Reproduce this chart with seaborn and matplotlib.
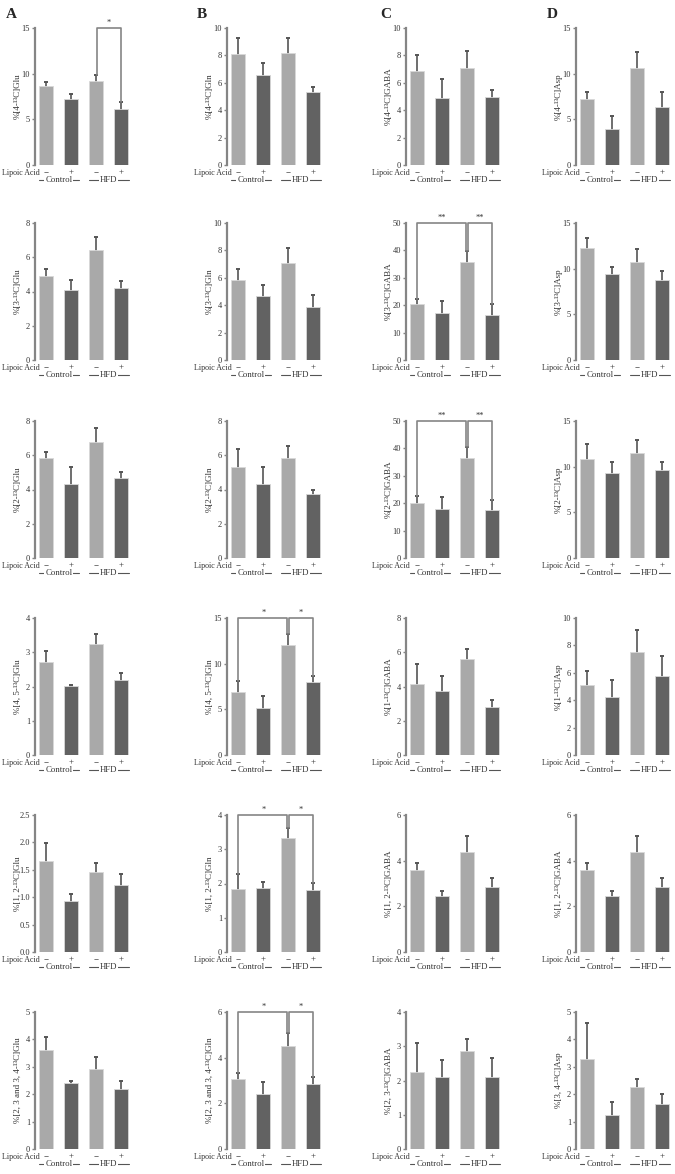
import numpy as np
import pandas as pd
import seaborn as sns
import matplotlib.pyplot as plt

# group order of the four bars in every panel
groups = ['Control −', 'Control +', 'HFD −', 'HFD +']
lipoic = ['−', '+', '−', '+']

# column A: glutamate
labels_A = ['%[4-¹³C]Glu', '%[3-¹³C]Glu', '%[2-¹³C]Glu',
            '%[4, 5-¹³C]Glu', '%[1, 2-¹³C]Glu', '%[2, 3 and 3, 4-¹³C]Glu']
means_A = [[8.6, 7.2, 9.2, 6.1], [4.9, 4.1, 6.4, 4.2], [5.85, 4.3, 6.75, 4.7],
           [2.72, 2.02, 3.25, 2.18], [1.66, 0.93, 1.46, 1.23], [3.6, 2.4, 2.92, 2.2]]
errs_A = [[0.5, 0.6, 0.6, 0.8], [0.4, 0.6, 0.8, 0.4], [0.35, 1.0, 0.85, 0.3],
          [0.33, 0.02, 0.27, 0.22], [0.32, 0.13, 0.16, 0.2], [0.5, 0.08, 0.45, 0.3]]
ymax_A = [15, 8, 8, 4, 2.5, 5]
step_A = [5, 2, 2, 1, 0.5, 1]
sig_A = [[(2, 3, '*')], [], [], [], [], []]

# column B: glutamine
labels_B = ['%[4-¹³C]Gln', '%[3-¹³C]Gln', '%[2-¹³C]Gln',
            '%[4, 5-¹³C]Gln', '%[1, 2-¹³C]Gln', '%[2, 3 and 3, 4-¹³C]Gln']
means_B = [[8.1, 6.6, 8.2, 5.35], [5.85, 4.65, 7.1, 3.9], [5.3, 4.3, 5.85, 3.75],
           [6.85, 5.15, 12.0, 8.0], [1.85, 1.88, 3.33, 1.82], [3.05, 2.42, 4.5, 2.85]]
errs_B = [[1.2, 0.85, 1.1, 0.35], [0.8, 0.85, 1.1, 0.85], [1.05, 1.0, 0.7, 0.25],
          [1.2, 1.3, 1.3, 0.7], [0.42, 0.15, 0.3, 0.2], [0.3, 0.5, 0.6, 0.3]]
ymax_B = [10, 10, 8, 15, 4, 6]
step_B = [2, 2, 2, 5, 1, 2]
sig_B = [[], [], [], [(0, 2, '*'), (2, 3, '*')],
         [(0, 2, '*'), (2, 3, '*')], [(0, 2, '*'), (2, 3, '*')]]

# column C: GABA
labels_C = ['%[4-¹³C]GABA', '%[3-¹³C]GABA', '%[2-¹³C]GABA',
            '%[1-¹³C]GABA', '%[1, 2-¹³C]GABA', '%[2, 3-¹³C]GABA']
means_C = [[6.85, 4.9, 7.1, 4.95], [20.5, 17.3, 35.8, 16.6], [20.2, 18.0, 36.6, 17.4],
           [4.15, 3.75, 5.6, 2.8], [3.6, 2.45, 4.4, 2.85], [2.25, 2.1, 2.85, 2.1]]
errs_C = [[1.2, 1.4, 1.2, 0.55], [1.8, 4.2, 4.0, 3.7], [2.6, 4.2, 4.0, 3.6],
          [1.15, 0.85, 0.6, 0.4], [0.3, 0.2, 0.7, 0.4], [0.85, 0.5, 0.35, 0.55]]
ymax_C = [10, 50, 50, 8, 6, 4]
step_C = [2, 10, 10, 2, 2, 1]
sig_C = [[], [(0, 2, '**'), (2, 3, '**')], [(0, 2, '**'), (2, 3, '**')], [], [], []]

# column D: aspartate
labels_D = ['%[4-¹³C]Asp', '%[3-¹³C]Asp', '%[2-¹³C]Asp',
            '%[1-¹³C]Asp', '%[1, 2-¹³C]GABA', '%[3, 4-¹³C]Asp']
means_D = [[7.2, 3.9, 10.6, 6.4], [12.3, 9.4, 10.7, 8.8], [10.8, 9.3, 11.5, 9.6],
           [5.1, 4.2, 7.55, 5.8], [3.6, 2.45, 4.4, 2.85], [3.3, 1.25, 2.25, 1.65]]
errs_D = [[0.8, 1.5, 1.8, 1.6], [1.1, 0.8, 1.4, 0.9], [1.7, 1.2, 1.4, 0.9],
          [1.0, 1.3, 1.55, 1.4], [0.3, 0.2, 0.7, 0.4], [1.3, 0.45, 0.3, 0.35]]
ymax_D = [15, 15, 15, 10, 6, 5]
step_D = [5, 5, 5, 2, 2, 1]
sig_D = [[], [], [], [], [], []]

columns = [
    ('A', labels_A, means_A, errs_A, ymax_A, step_A, sig_A),
    ('B', labels_B, means_B, errs_B, ymax_B, step_B, sig_B),
    ('C', labels_C, means_C, errs_C, ymax_C, step_C, sig_C),
    ('D', labels_D, means_D, errs_D, ymax_D, step_D, sig_D),
]

LIGHT = '#a9a9a9'
DARK = '#626262'
GREY = '#858585'
TEXT = '#333333'

sns.set_style('ticks')
plt.rcParams['font.family'] = ['Liberation Serif', 'DejaVu Serif']

W, H = 675, 1174
fig = plt.figure(figsize=(W / 100, H / 100), dpi=100)

col_left = [35, 227, 406, 576]
col_letter = [6, 197, 380, 547]
row_top = [28, 223, 421, 618, 815, 1012]
ax_w, ax_h = 95, 137


def draw_panel(ax, label, means, errs, ymax, step, sigs):
    df = pd.DataFrame({'group': groups, 'value': means})
    sns.barplot(data=df, x='group', y='value', hue='group',
                palette=[LIGHT, DARK, LIGHT, DARK], width=0.56,
                edgecolor='#d8d8d8', linewidth=0.6, legend=False,
                errorbar=None, ax=ax, zorder=2)
    xs = np.arange(len(means))
    # symmetric error bars drawn behind the bars, so only the upper half shows
    ax.errorbar(xs, means, yerr=errs, fmt='none',
                ecolor='#555555', elinewidth=1.2, capsize=1.6, capthick=1.4,
                zorder=1)
    ax.set_xlim(-0.45, 3.35)
    ax.set_ylim(0, ymax)
    ticks = np.arange(0, ymax + step / 2, step)
    ax.set_yticks(ticks)
    if step < 1:
        ax.set_yticklabels([f'{t:.1f}' for t in ticks])
    else:
        ax.set_yticklabels([f'{t:g}' for t in ticks])
    ax.tick_params(axis='y', length=2.5, width=1, color=GREY,
                   labelsize=6, labelcolor=TEXT, pad=1)
    ax.tick_params(axis='x', bottom=False, labelbottom=False)
    ax.set_xlabel('')
    ax.set_ylabel(label, fontsize=6.5, color=TEXT)
    ax.yaxis.set_label_coords(-0.14, 0.5)
    for s in ['top', 'right', 'bottom']:
        ax.spines[s].set_visible(False)
    ax.spines['left'].set_color(GREY)
    ax.spines['left'].set_linewidth(1.6)
    ax.set_facecolor('white')

    # significance brackets
    for i, j, txt in sigs:
        xi = xs[i] + (0.04 if i == 2 else 0)
        xj = xs[j] - (0.04 if j == 2 else 0)
        ax.plot([xi, xi, xj, xj],
                [means[i] + errs[i], ymax, ymax, means[j] + errs[j]],
                color=GREY, lw=1.2, clip_on=False, zorder=3)
        ax.text((xs[i] + xs[j]) / 2, ymax * 1.005, txt, ha='center',
                va='bottom', fontsize=6, color=TEXT)

    # treatment row under the bars
    tr = ax.get_xaxis_transform()
    ax.text(-0.28, -0.055, 'Lipoic Acid', transform=tr, ha='right',
            va='center', fontsize=5.8, color=TEXT, clip_on=False)
    for x, s in zip(xs, lipoic):
        ax.text(x, -0.055, s, transform=tr, ha='center', va='center',
                fontsize=6.5, color=TEXT, clip_on=False)
    for x0, x1, name in [(-0.3, 1.3, 'Control'), (1.7, 3.3, 'HFD')]:
        ax.plot([x0, x1], [-0.11, -0.11], transform=tr, color='#555555',
                lw=0.8, clip_on=False)
        ax.text((x0 + x1) / 2, -0.11, name, transform=tr, ha='center',
                va='center', fontsize=6.3, color=TEXT, clip_on=False,
                bbox=dict(facecolor='white', edgecolor='none', pad=0.6))


for c, (letter, labels, means, errs, ymax, step, sigs) in enumerate(columns):
    fig.text(col_letter[c] / W, 1 - 14 / H, letter, fontsize=11,
             fontweight='bold', va='center', ha='left')
    for r in range(6):
        rect = [col_left[c] / W, 1 - (row_top[r] + ax_h) / H, ax_w / W, ax_h / H]
        ax = fig.add_axes(rect)
        draw_panel(ax, labels[r], means[r], errs[r], ymax[r], step[r], sigs[r])

fig.savefig('out.png', dpi=100, facecolor='white')
